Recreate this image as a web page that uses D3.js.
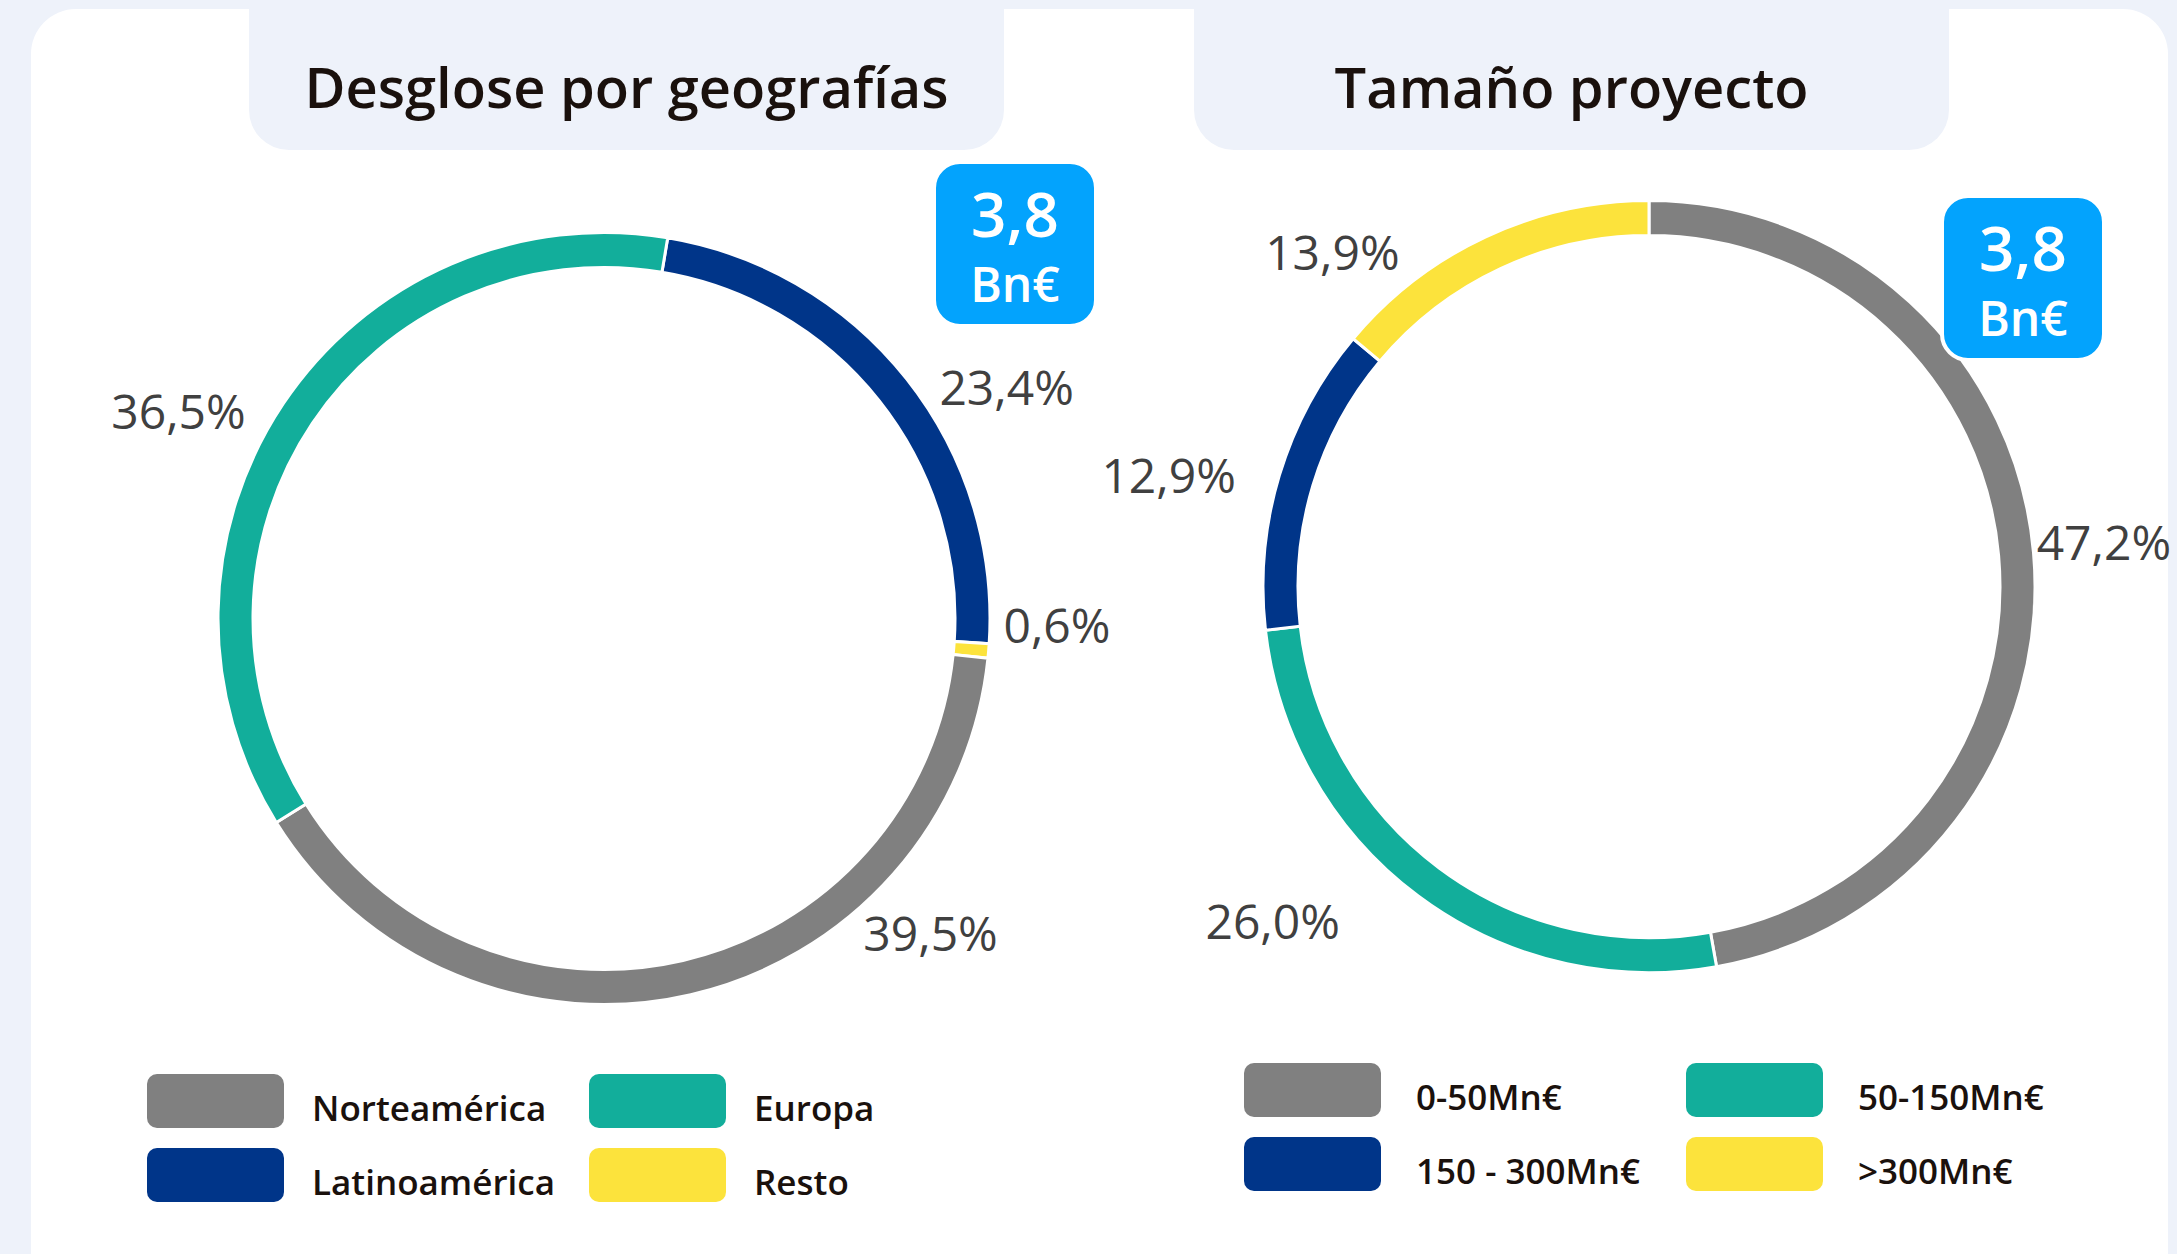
<!DOCTYPE html>
<meta charset="utf-8">
<style>
body { margin: 0; background: #eef2fa; }
svg { display: block; font-family: "Open Sans", "Noto Sans", sans-serif; }
.title { font-size: 56px; font-weight: 600; fill: #1a110d; text-anchor: middle; }
.pct { font-size: 48px; fill: #404040; text-anchor: middle; }
.badge text { fill: #fff; text-anchor: middle; font-weight: 600; }
.legend text { font-size: 35px; font-weight: 600; fill: #1a110d; }
</style>
<svg id="chart" width="2177" height="1254"></svg>
<script src="https://cdn.jsdelivr.net/npm/d3@7"></script>
<script>

// ring order (clockwise) for the first donut
var geoNames = ["Latinoamérica", "Resto", "Norteamérica", "Europa"];
var geoValues = [23.4, 0.6, 39.5, 36.5];
var geoLegend = ["Norteamérica", "Latinoamérica", "Europa", "Resto"];

var sizeNames = ["0-50Mn€", "50-150Mn€", "150 - 300Mn€", ">300Mn€"];
var sizeValues = [47.2, 26.0, 12.9, 13.9];
var sizeLegend = ["0-50Mn€", "150 - 300Mn€", "50-150Mn€", ">300Mn€"];

var totalValue = "3,8";
var totalUnit = "Bn€";

var colors = {
	"Norteamérica": "#808080", "Europa": "#12ae9b", "Latinoamérica": "#003589", "Resto": "#fce33c",
	"0-50Mn€": "#808080", "50-150Mn€": "#12ae9b", "150 - 300Mn€": "#003589", ">300Mn€": "#fce33c"
};

var svg = d3.select("#chart");
var fmt = d3.formatLocale({decimal: ",", thousands: ".", grouping: [3], currency: ["", "€"]}).format(".1f");
var deg = Math.PI / 180;

// white panel
svg.append("rect")
	.attr("x", 31).attr("y", 9)
	.attr("width", 2137).attr("height", 1290)
	.attr("rx", 45)
	.attr("fill", "#fff");

function donut(opt) {
	var g = svg.append("g");

	// title tab
	g.append("rect")
		.attr("x", opt.tab[0]).attr("y", -60)
		.attr("width", opt.tab[1] - opt.tab[0]).attr("height", 210)
		.attr("rx", 40)
		.attr("fill", "#eef2fa");
	g.append("text")
		.attr("class", "title")
		.attr("x", (opt.tab[0] + opt.tab[1]) / 2)
		.attr("y", 108)
		.text(opt.title);

	var pie = d3.pie().sort(null)
		.startAngle(opt.start * deg)
		.endAngle(opt.start * deg + 2 * Math.PI);
	var arcs = pie(opt.values);
	var arc = d3.arc().innerRadius(opt.r - 35).outerRadius(opt.r);

	var ring = g.append("g").attr("transform", "translate(" + opt.cx + "," + opt.cy + ")");
	ring.selectAll("path")
		.data(arcs)
		.enter().append("path")
			.attr("d", arc)
			.attr("fill", function(d, i) { return colors[opt.names[i]]; })
			.attr("stroke", "#fff")
			.attr("stroke-width", 3);

	// labels were placed by hand in the original, so keep angle/radius per slice
	ring.selectAll("text")
		.data(arcs)
		.enter().append("text")
			.attr("class", "pct")
			.attr("transform", function(d, i) {
				var p = d3.pointRadial(opt.labelAt[i][0] * deg, opt.labelAt[i][1]);
				return "translate(" + p[0] + "," + (p[1] + 17) + ")";
			})
			.text(function(d) { return fmt(d.data) + "%"; });

	// total badge
	var b = g.append("g").attr("class", "badge");
	b.append("rect")
		.attr("x", opt.badge[0]).attr("y", opt.badge[1])
		.attr("width", 162).attr("height", 164)
		.attr("rx", 26)
		.attr("fill", "#03a3fd")
		.attr("stroke", "#fff")
		.attr("stroke-width", 4);
	b.append("text")
		.attr("x", opt.badge[0] + 81).attr("y", opt.badge[1] + 75)
		.attr("font-size", 62)
		.text(totalValue);
	b.append("text")
		.attr("x", opt.badge[0] + 81).attr("y", opt.badge[1] + 140)
		.attr("font-size", 48)
		.text(totalUnit);

	// legend, two columns filled top to bottom
	var lg = g.append("g").attr("class", "legend")
		.selectAll("g")
		.data(opt.legend)
		.enter().append("g")
			.attr("transform", function(d, i) {
				return "translate(" + (opt.leg[0] + Math.floor(i / 2) * opt.leg[2]) + "," + (opt.leg[1] + (i % 2) * opt.leg[3]) + ")";
			});
	lg.append("rect")
		.attr("width", 137).attr("height", 54)
		.attr("rx", 10)
		.attr("fill", function(d) { return colors[d]; });
	lg.append("text")
		.attr("x", opt.leg[4]).attr("y", 47)
		.text(function(d) { return d; });
}

donut({
	title: "Desglose por geografías",
	tab: [249, 1004],
	names: geoNames, values: geoValues, legend: geoLegend,
	cx: 604, cy: 618.5, r: 386, start: 9.5,
	labelAt: [[60.2, 464], [90.9, 453], [134.0, 454], [295.9, 473]],
	badge: [934, 162],
	leg: [147, 1074, 442, 74, 165]
});

donut({
	title: "Tamaño proyecto",
	tab: [1194, 1949],
	names: sizeNames, values: sizeValues, legend: sizeLegend,
	cx: 1649, cy: 586.6, r: 386, start: 0,
	labelAt: [[84.5, 457], [228.3, 504], [283.0, 493], [316.5, 460]],
	badge: [1942, 196],
	leg: [1244, 1063, 442, 74, 172]
});

</script>
